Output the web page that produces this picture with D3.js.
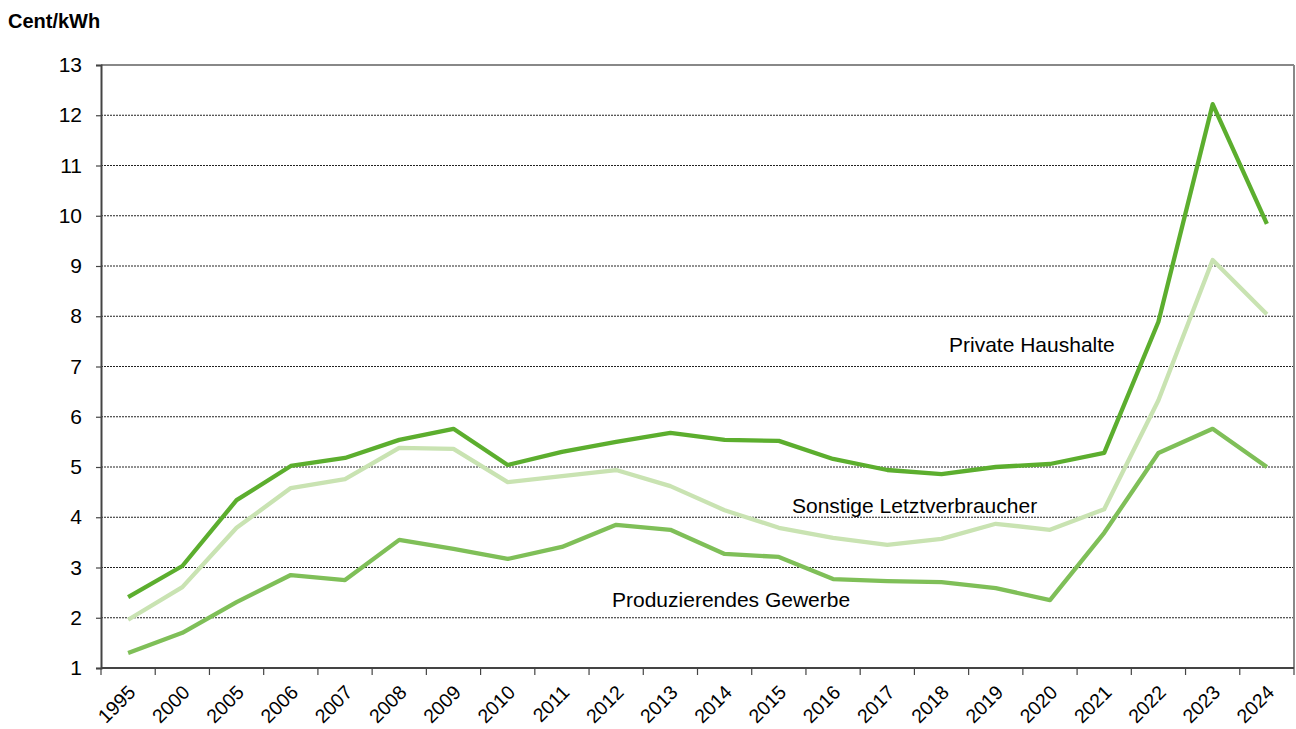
<!DOCTYPE html>
<html lang="de">
<head>
<meta charset="UTF-8">
<style>
  body { margin: 0; background: #fff; font-family: "Liberation Sans", Arial, sans-serif; }
  #chart svg { display: block; }
</style>
<script src="https://d3js.org/d3.v7.min.js"></script>
</head>
<body>
<div id="chart"></div>
<script>
// Kategorien (Jahre)
var years = ["1995","2000","2005","2006","2007","2008","2009","2010","2011","2012","2013",
             "2014","2015","2016","2017","2018","2019","2020","2021","2022","2023","2024"];

// Cent/kWh
var privateHaushalte = [2.41,3.03,4.34,5.02,5.18,5.54,5.76,5.04,5.30,5.50,5.68,
                        5.54,5.52,5.16,4.94,4.86,5.00,5.06,5.28,7.89,12.22,9.84];
var sonstige = [1.96,2.61,3.79,4.58,4.76,5.38,5.36,4.70,4.82,4.94,4.62,
                4.14,3.79,3.59,3.45,3.57,3.87,3.75,4.16,6.33,9.12,8.04];
var produzierendes = [1.30,1.70,2.31,2.85,2.75,3.55,3.37,3.17,3.41,3.85,3.75,
                      3.27,3.21,2.77,2.73,2.71,2.59,2.35,3.69,5.28,5.76,5.00];

var yTicks = [1,2,3,4,5,6,7,8,9,10,11,12,13];

var series = [
  { name: "Sonstige Letztverbraucher", values: sonstige, color: "#c9e3b2", lx: 792, ly: 513 },
  { name: "Produzierendes Gewerbe", values: produzierendes, color: "#7fbf58", lx: 612, ly: 607 },
  { name: "Private Haushalte", values: privateHaushalte, color: "#5cae2e", lx: 949, ly: 352 }
];

var W = 1296, H = 729;
var margin = { top: 65, right: 2, bottom: 61, left: 101 };
var width = W - margin.left - margin.right;
var height = H - margin.top - margin.bottom;

var svg = d3.select("#chart").append("svg")
    .attr("width", W)
    .attr("height", H);

var g = svg.append("g")
    .attr("transform", "translate(" + margin.left + "," + margin.top + ")");

var x = d3.scaleBand().domain(years).range([0, width]);
var y = d3.scaleLinear().domain([1, 13]).range([height, 0]);

// Gitterlinien
g.selectAll(".grid")
    .data(yTicks.filter(d => d > 1 && d < 13))
    .enter().append("line")
    .attr("x1", 0).attr("x2", width)
    .attr("y1", d => y(d)).attr("y2", d => y(d))
    .attr("stroke", "#222")
    .attr("stroke-width", 1)
    .attr("stroke-dasharray", "2,1");

// Rahmen oben und rechts
g.append("line").attr("x1", 0).attr("x2", width).attr("y1", 0).attr("y2", 0)
    .attr("stroke", "#888").attr("stroke-width", 2);
g.append("line").attr("x1", width).attr("x2", width).attr("y1", 0).attr("y2", height)
    .attr("stroke", "#888").attr("stroke-width", 2);

// Y-Achse
var yAxis = g.append("g")
    .call(d3.axisLeft(y).tickValues(yTicks).tickSize(5).tickFormat(d3.format("d")));
yAxis.select(".domain").attr("stroke", "#444").attr("stroke-width", 2);
yAxis.selectAll(".tick line").attr("stroke", "#444").attr("stroke-width", 1.2);
yAxis.selectAll(".tick text")
    .attr("x", -19)
    .attr("fill", "#000")
    .style("font-family", "Liberation Sans, Arial, sans-serif")
    .style("font-size", "21px");

// X-Achse
var xAxisG = g.append("g").attr("transform", "translate(0," + height + ")");
xAxisG.append("line").attr("x1", 0).attr("x2", width).attr("y1", 0).attr("y2", 0)
    .attr("stroke", "#444").attr("stroke-width", 2);
var bounds = years.map(d => x(d)).concat([width]);
xAxisG.selectAll(".xtick")
    .data(bounds)
    .enter().append("line")
    .attr("x1", d => d).attr("x2", d => d)
    .attr("y1", 0).attr("y2", 7)
    .attr("stroke", "#444").attr("stroke-width", 1.2);
xAxisG.selectAll(".xlabel")
    .data(years)
    .enter().append("text")
    .attr("transform", d => "translate(" + (x(d) + x.bandwidth() / 2 - 1) + ",16) rotate(-45)")
    .attr("text-anchor", "end")
    .attr("dy", "0.7em")
    .attr("fill", "#000")
    .style("font-size", "19.5px")
    .text(d => d);

// Linien
var line = d3.line()
    .x((d, i) => x(years[i]) + x.bandwidth() / 2)
    .y(d => y(d));

g.selectAll(".series")
    .data(series)
    .enter().append("path")
    .attr("d", d => line(d.values))
    .attr("fill", "none")
    .attr("stroke", d => d.color)
    .attr("stroke-width", 4.3)
    .attr("stroke-linejoin", "round");

// Beschriftungen
svg.selectAll(".lbl")
    .data(series)
    .enter().append("text")
    .attr("x", d => d.lx)
    .attr("y", d => d.ly)
    .attr("fill", "#000")
    .style("font-size", "21px")
    .text(d => d.name);

// Einheit
svg.append("text")
    .attr("x", 8).attr("y", 28)
    .attr("fill", "#000")
    .style("font-size", "20px")
    .style("font-weight", "bold")
    .text("Cent/kWh");
</script>
</body>
</html>
